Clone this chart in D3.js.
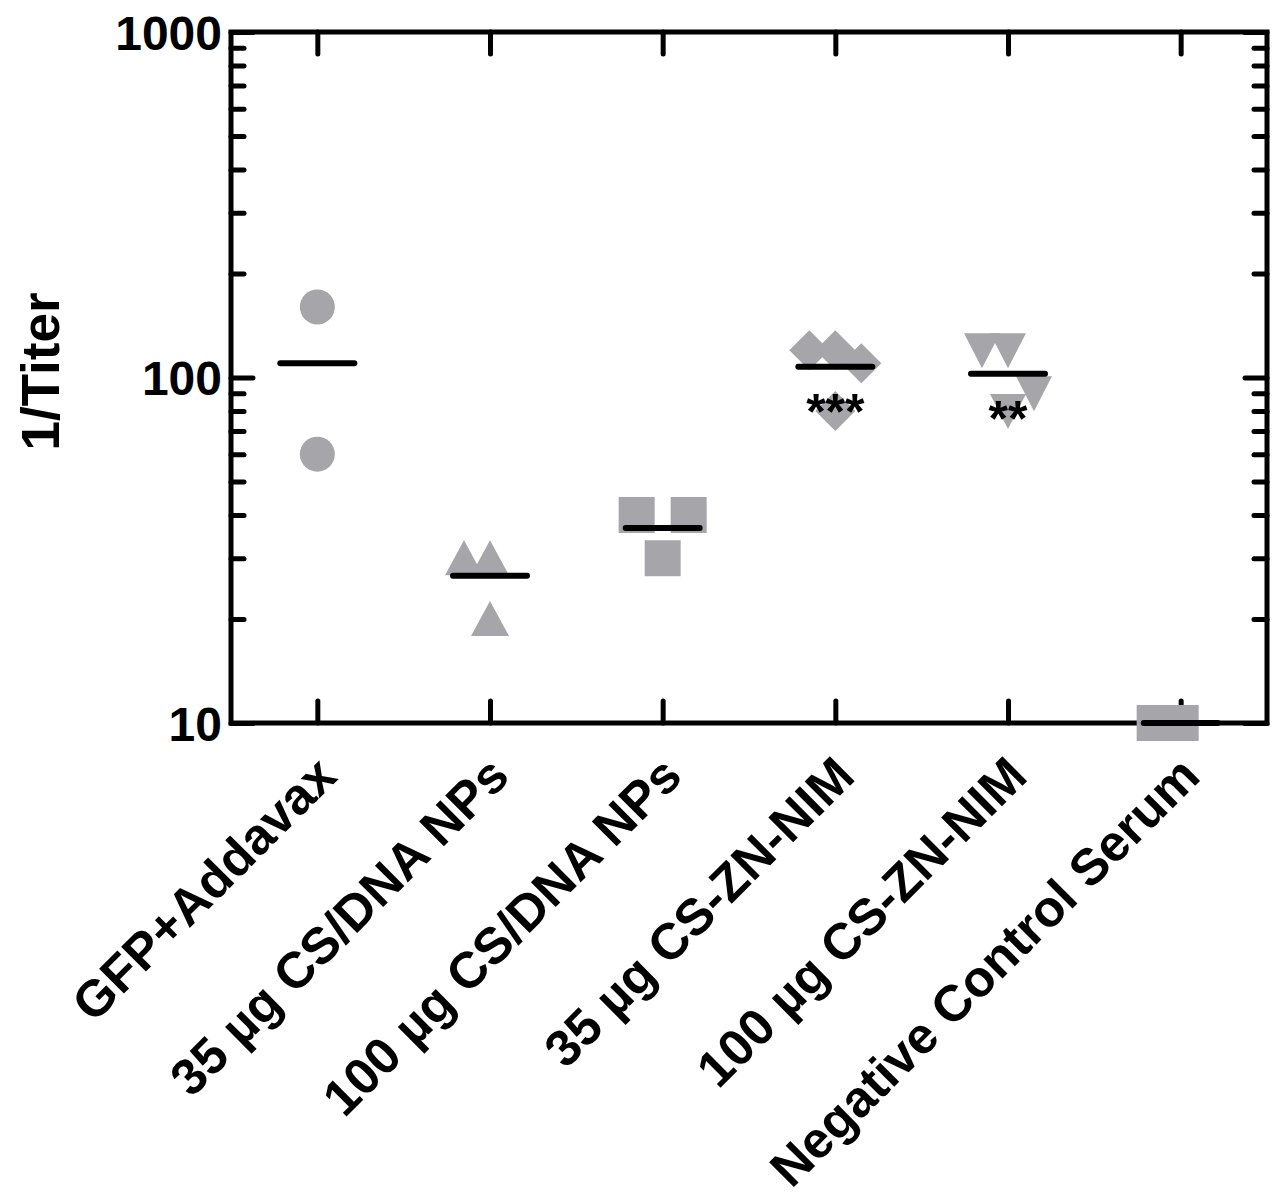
<!DOCTYPE html>
<html>
<head>
<meta charset="utf-8">
<script src="https://cdn.jsdelivr.net/npm/d3@7"></script>
<style>
  body { margin: 0; background: #fff; }
  svg { display: block; font-family: "Liberation Sans", Arial, sans-serif; font-weight: bold; }
</style>
</head>
<body>
<script>
// groups on the x axis
var groups = ["GFP+Addavax", "35 µg CS/DNA NPs", "100 µg CS/DNA NPs",
  "35 µg CS-ZN-NIM", "100 µg CS-ZN-NIM", "Negative Control Serum"];

// 1/Titer per animal
var gfpAddavax = [160, 60];
var csDna35 = [30, 30, 20];
var csDna100 = [30, 40, 40];
var csZnNim35 = [120, 120, 110, 80];
var csZnNim100 = [120, 120, 90, 80];
var negControl = [10, 10];

var groupValues = [gfpAddavax, csDna35, csDna100, csZnNim35, csZnNim100, negControl];
var significance = ["", "", "", "***", "**", ""];

var majorTicks = [10, 100, 1000];
var minorTicks = [20, 30, 40, 50, 60, 70, 80, 90, 200, 300, 400, 500, 600, 700, 800, 900];

var W = 1280, H = 1198;
var margin = { top: 32, right: 13, bottom: 475, left: 231 };
var width = W - margin.left - margin.right;
var height = H - margin.top - margin.bottom;

var markerShape = ["circle", "triangle", "square", "diamond", "triangleDown", "square"];
var grey = "#a6a5aa";

var x = d3.scalePoint().domain(groups).range([0, width]).padding(0.5);
var y = d3.scaleLog().domain([10, 1000]).range([height, 0]);

var svg = d3.select("body").append("svg")
  .attr("width", W).attr("height", H);
svg.append("rect").attr("width", W).attr("height", H).attr("fill", "#fff");

var g = svg.append("g")
  .attr("transform", "translate(" + margin.left + "," + margin.top + ")");

function styleAxis(sel) {
  sel.select(".domain").remove();
  sel.selectAll(".tick line").attr("stroke", "#000").attr("stroke-width", 5).attr("stroke-linecap", "round");
}

// minor ticks, pointing inward on both sides
g.append("g").call(d3.axisLeft(y).tickValues(minorTicks).tickSize(-13).tickFormat(""))
  .call(styleAxis);
g.append("g").attr("transform", "translate(" + width + ",0)")
  .call(d3.axisRight(y).tickValues(minorTicks).tickSize(-13).tickFormat(""))
  .call(styleAxis);

// major ticks with labels
var yAxis = g.append("g")
  .call(d3.axisLeft(y).tickValues(majorTicks).tickSize(-22).tickPadding(30).tickFormat(d3.format("d")))
  .call(styleAxis);
yAxis.selectAll(".tick text")
  .attr("font-size", 48).attr("font-family", "Liberation Sans, Arial, sans-serif")
  .attr("font-weight", "bold").attr("fill", "#000").attr("x", -9).attr("dy", "0.36em");
g.append("g").attr("transform", "translate(" + width + ",0)")
  .call(d3.axisRight(y).tickValues(majorTicks).tickSize(-22).tickFormat(""))
  .call(styleAxis);

// category ticks top and bottom
g.append("g").call(d3.axisTop(x).tickSize(-22).tickFormat(""))
  .call(styleAxis);
var xAxis = g.append("g").attr("transform", "translate(0," + height + ")")
  .call(d3.axisBottom(x).tickSize(-22).tickFormat(""))
  .call(styleAxis);

// frame
g.append("rect")
  .attr("x", 0).attr("y", 0).attr("width", width).attr("height", height)
  .attr("fill", "none").attr("stroke", "#000").attr("stroke-width", 5);

// x labels, rotated
g.append("g").selectAll("text")
  .data(groups).enter().append("text")
  .attr("transform", function (d) {
    return "translate(" + (x(d) + 9) + "," + (height + 43) + ") rotate(-45)";
  })
  .attr("text-anchor", "end")
  .attr("dy", "0.35em")
  .attr("font-size", 51)
  .text(function (d) { return d; });

// y title
svg.append("text")
  .attr("transform", "translate(" + 40 + "," + (margin.top + y(100) - 6) + ") rotate(-90)")
  .attr("text-anchor", "middle")
  .attr("dy", "0.36em")
  .attr("font-size", 53)
  .text("1/Titer");

// spread points that would overlap, like a small beeswarm
var step = 26, clash = 46;
var points = [];
groupValues.forEach(function (vals, gi) {
  var placed = [];
  vals.forEach(function (v) {
    var py = y(v);
    var tries = [0, -1, 1, -2, 2];
    for (var t = 0; t < tries.length; t++) {
      var col = tries[t];
      var hit = placed.some(function (p) { return p.col === col && Math.abs(p.py - py) < clash; });
      if (!hit) { placed.push({ col: col, py: py }); break; }
    }
    var last = placed[placed.length - 1];
    points.push({ group: gi, value: v, px: x(groups[gi]) + last.col * step, py: py });
  });
});

function markerPath(shape) {
  var p = d3.path();
  if (shape === "circle") {
    p.arc(0, 0, 17.5, 0, 2 * Math.PI);
  } else if (shape === "square") {
    p.rect(-18, -18, 36, 36);
  } else if (shape === "triangle") {
    p.moveTo(0, -18); p.lineTo(19, 17); p.lineTo(-19, 17); p.closePath();
  } else if (shape === "triangleDown") {
    p.moveTo(0, 18); p.lineTo(18, -17); p.lineTo(-18, -17); p.closePath();
  } else if (shape === "diamond") {
    p.moveTo(0, -20); p.lineTo(20, 0); p.lineTo(0, 20); p.lineTo(-20, 0); p.closePath();
  }
  return p.toString();
}

g.selectAll(".dot")
  .data(points).enter().append("path")
  .attr("class", "dot")
  .attr("d", function (d) { return markerPath(markerShape[d.group]); })
  .attr("transform", function (d) { return "translate(" + d.px + "," + d.py + ")"; })
  .attr("fill", grey);

// mean lines
g.selectAll(".mean")
  .data(groupValues).enter().append("line")
  .attr("class", "mean")
  .attr("x1", function (d, i) { return x(groups[i]) - 37; })
  .attr("x2", function (d, i) { return x(groups[i]) + 37; })
  .attr("y1", function (d) { return y(d3.mean(d)); })
  .attr("y2", function (d) { return y(d3.mean(d)); })
  .attr("stroke", "#000").attr("stroke-width", 6).attr("stroke-linecap", "round");

// significance stars
g.selectAll(".stars")
  .data(significance).enter().append("text")
  .attr("class", "stars")
  .attr("x", function (d, i) { return x(groups[i]); })
  .attr("y", function (d, i) { return y(d3.mean(groupValues[i])) + 62; })
  .attr("text-anchor", "middle")
  .attr("font-size", 50)
  .text(function (d) { return d; });
</script>
</body>
</html>
